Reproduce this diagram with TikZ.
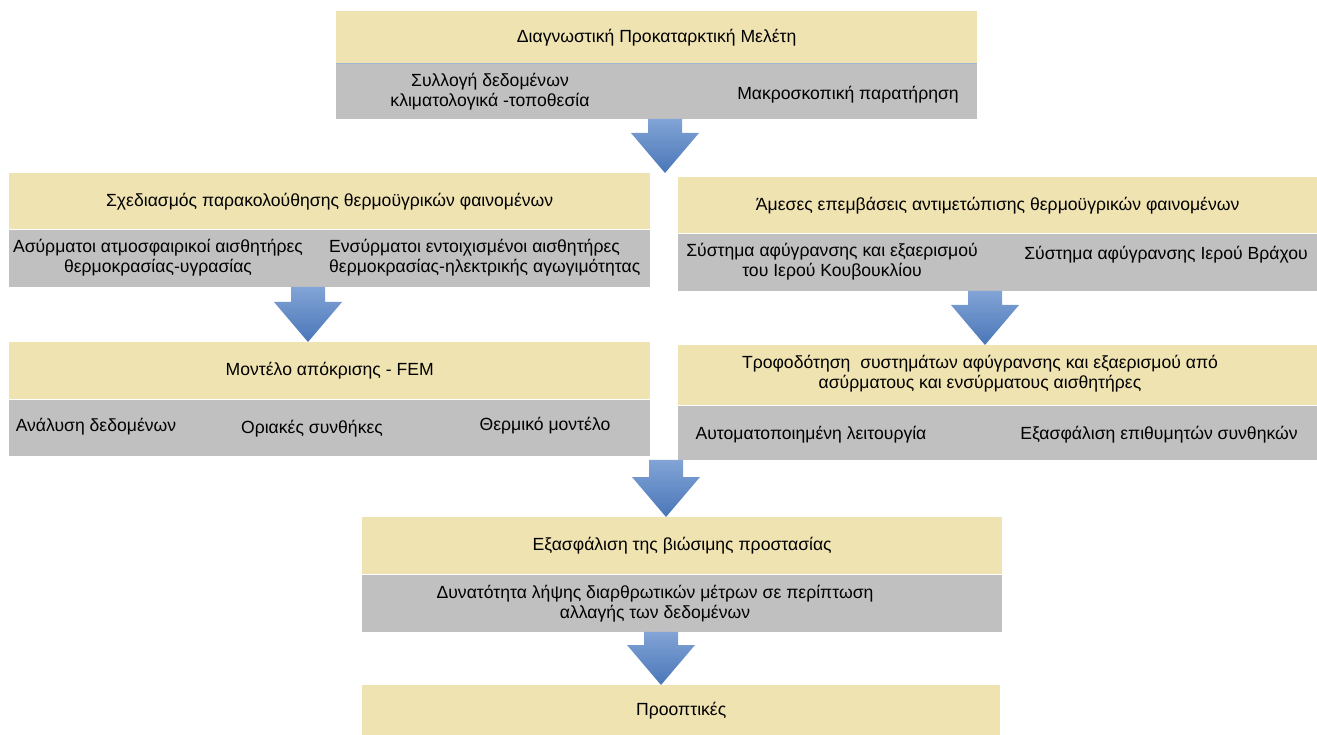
\documentclass[tikz,border=0pt]{standalone}
\usepackage{fontspec}
\setmainfont{Liberation Sans}
\usepackage{tikz}
\usetikzlibrary{positioning,calc}

\definecolor{headfill}{RGB}{239,227,177}
\definecolor{subfill}{RGB}{192,192,192}
\definecolor{arrowlight}{RGB}{130,164,214}
\definecolor{arrowdark}{RGB}{74,118,184}
\definecolor{sepcol}{RGB}{160,180,212}

% block arrow: from the grey part of one block to the yellow head of the next
\newcommand{\flowarrow}[3]{%
	\path[arrowsty] let \p1=(#1.south), \p2=(#2.north) in
		(#3pt-17pt,\y1) -- (#3pt+17pt,\y1) -- (#3pt+17pt,\y2+40pt) -- (#3pt+34pt,\y2+40pt)
		-- (#3pt,\y2) -- (#3pt-34pt,\y2+40pt) -- (#3pt-17pt,\y2+40pt) -- cycle;}

\begin{document}
\begin{tikzpicture}
		[x=1pt, y=-1pt,
		font=\fontsize{17.6}{20}\selectfont,
		headsty/.style={fill=headfill, inner sep=0pt, align=center, anchor=north west},
		substy/.style={fill=subfill, inner sep=0pt},
		txtsty/.style={inner sep=0pt, align=center},
		arrowsty/.style={top color=arrowlight, bottom color=arrowdark, draw=none}]
		\useasboundingbox (0,0) rectangle (1317,735);
		
		% diagnostic study
		\node (diag) at (336,11) [headsty, minimum width=641, minimum height=52] {Διαγνωστική Προκαταρκτική Μελέτη};
		\node (diag sub) [substy, below=0pt of diag, minimum width=641, minimum height=55] {};
		\draw[sepcol, line width=1.5pt] (diag.south west) -- (diag.south east);
		\node (text 1) at (490,92) [txtsty] {Συλλογή δεδομένων\\κλιματολογικά -τοποθεσία};
		\node (text 2) at (848,95) [txtsty] {Μακροσκοπική παρατήρηση};
		
		% monitoring
		\node (monit) at (9,173) [headsty, minimum width=641, minimum height=56] {Σχεδιασμός παρακολούθησης θερμοϋγρικών φαινομένων};
		\node (monit sub) [substy, below=0pt of monit, minimum width=641, minimum height=57] {};
		\node (text 3) at (158,258) [txtsty] {Ασύρματοι ατμοσφαιρικοί αισθητήρες\\θερμοκρασίας-υγρασίας};
		\node (text 4) at (329,258) [txtsty, anchor=west, align=left] {Ενσύρματοι εντοιχισμένοι αισθητήρες\\θερμοκρασίας-ηλεκτρικής αγωγιμότητας};
		
		% interventions
		\node (interv) at (678,177) [headsty, minimum width=639, minimum height=56] {Άμεσες επεμβάσεις αντιμετώπισης θερμοϋγρικών φαινομένων};
		\node (interv sub) [substy, below=0pt of interv, minimum width=639, minimum height=57] {};
		\node (text 5) at (832,262) [txtsty] {Σύστημα αφύγρανσης και εξαερισμού\\του Ιερού Κουβουκλίου};
		\node (text 6) at (1166,255) [txtsty] {Σύστημα αφύγρανσης Ιερού Βράχου};
		
		% response model
		\node (model) at (9,342) [headsty, minimum width=641, minimum height=57] {Μοντέλο απόκρισης - FEM};
		\node (model sub) [substy, below=0pt of model, minimum width=641, minimum height=56] {};
		\node (text 7) at (96,427) [txtsty] {Ανάλυση δεδομένων};
		\node (text 8) at (312,429) [txtsty] {Οριακές συνθήκες};
		\node (text 9) at (545,426) [txtsty] {Θερμικό μοντέλο};
		
		% supply of the systems
		\node (supply) at (678,345) [headsty, minimum width=639, minimum height=60] {};
		\node (supply sub) [substy, below=0pt of supply, minimum width=639, minimum height=54] {};
		\node (text 10) at (980,374) [txtsty] {Τροφοδότηση\ \ συστημάτων αφύγρανσης και εξαερισμού από\\ασύρματους και ενσύρματους αισθητήρες};
		\node (text 11) at (811,435) [txtsty] {Αυτοματοποιημένη λειτουργία};
		\node (text 12) at (1159,435) [txtsty] {Εξασφάλιση επιθυμητών συνθηκών};
		
		% protection
		\node (protect) at (362,517) [headsty, minimum width=640, minimum height=57] {Εξασφάλιση της βιώσιμης προστασίας};
		\node (protect sub) [substy, below=0pt of protect, minimum width=640, minimum height=57] {};
		\node (text 13) at (655,604) [txtsty] {Δυνατότητα λήψης διαρθρωτικών μέτρων σε περίπτωση\\αλλαγής των δεδομένων};
		
		\node (persp) at (362,685) [headsty, minimum width=638, minimum height=50] {Προοπτικές};
		
		\flowarrow{diag sub}{monit}{665}
		\flowarrow{monit sub}{model}{308}
		\flowarrow{interv sub}{supply}{985}
		\flowarrow{supply sub}{protect}{666}
		\flowarrow{protect sub}{persp}{661}
	\end{tikzpicture}
\end{document}
